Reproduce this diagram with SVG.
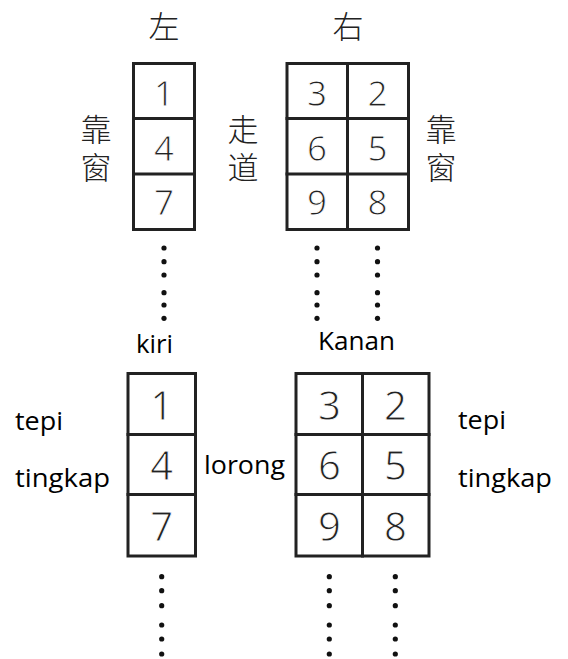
<svg xmlns="http://www.w3.org/2000/svg" width="568" height="659" viewBox="0 0 568 659">
<style>
.bg{fill:#ffffff}
.grid{fill:none;stroke:#222;stroke-width:3;stroke-linecap:square}
.dg{font-family:"Open Sans","DejaVu Sans",sans-serif;fill:#222;text-anchor:middle;stroke:#fff;stroke-width:0.9px}
.dt{font-size:35px}
.db{font-size:40px}
.cjk{font-family:"Noto Sans CJK SC","Noto Sans CJK TC",sans-serif;font-weight:300;fill:#222;font-size:31px}
.vt{writing-mode:vertical-rl;letter-spacing:7px}
.lat{font-family:"Open Sans","Noto Sans",sans-serif;font-size:25px;fill:#000}
.dot{fill:#111}
</style>
<rect class="bg" x="0" y="0" width="568" height="659"/>

<g id="top-labels">
  <text class="cjk" x="164" y="24" font-size="32" text-anchor="middle" dominant-baseline="central">左</text>
  <text class="cjk" x="348" y="24" font-size="32" text-anchor="middle" dominant-baseline="central">右</text>
  <text class="cjk vt" x="96" y="113.5">靠窗</text>
  <text class="cjk vt" x="243" y="113.5">走道</text>
  <text class="cjk vt" x="441" y="113.5">靠窗</text>
</g>

<g id="top-left-seats">
  <rect class="grid" x="133.5" y="63.5" width="61" height="166"/>
  <line class="grid" x1="133.5" y1="118.5" x2="194.5" y2="118.5"/>
  <line class="grid" x1="133.5" y1="174" x2="194.5" y2="174"/>
  <text class="dg dt" x="164" y="106">1</text>
  <text class="dg dt" x="164" y="160.5">4</text>
  <text class="dg dt" x="164" y="215">7</text>
</g>

<g id="top-right-seats">
  <rect class="grid" x="287" y="63.5" width="121.5" height="166"/>
  <line class="grid" x1="347.5" y1="63.5" x2="347.5" y2="229.5"/>
  <line class="grid" x1="287" y1="118.5" x2="408.5" y2="118.5"/>
  <line class="grid" x1="287" y1="174" x2="408.5" y2="174"/>
  <text class="dg dt" x="317" y="106">3</text>
  <text class="dg dt" x="377.5" y="106">2</text>
  <text class="dg dt" x="317" y="160.5">6</text>
  <text class="dg dt" x="377.5" y="160.5">5</text>
  <text class="dg dt" x="317" y="215">9</text>
  <text class="dg dt" x="377.5" y="215">8</text>
</g>

<g id="top-dots">
  <circle class="dot" cx="164" cy="248" r="2.6"/><circle class="dot" cx="164" cy="261.7" r="2.6"/><circle class="dot" cx="164" cy="275" r="2.6"/><circle class="dot" cx="164" cy="292.7" r="2.6"/><circle class="dot" cx="164" cy="305" r="2.6"/><circle class="dot" cx="164" cy="318.3" r="2.6"/>
  <circle class="dot" cx="317" cy="248" r="2.6"/><circle class="dot" cx="317" cy="261.7" r="2.6"/><circle class="dot" cx="317" cy="275" r="2.6"/><circle class="dot" cx="317" cy="292.7" r="2.6"/><circle class="dot" cx="317" cy="305" r="2.6"/><circle class="dot" cx="317" cy="318.3" r="2.6"/>
  <circle class="dot" cx="377.5" cy="248" r="2.6"/><circle class="dot" cx="377.5" cy="261.7" r="2.6"/><circle class="dot" cx="377.5" cy="275" r="2.6"/><circle class="dot" cx="377.5" cy="292.7" r="2.6"/><circle class="dot" cx="377.5" cy="305" r="2.6"/><circle class="dot" cx="377.5" cy="318.3" r="2.6"/>
</g>

<g id="bottom-labels">
  <text class="lat" x="136" y="352.5" textLength="37" lengthAdjust="spacingAndGlyphs">kiri</text>
  <text class="lat" x="318" y="350" textLength="77" lengthAdjust="spacingAndGlyphs">Kanan</text>
  <text class="lat" x="15" y="430" textLength="48" lengthAdjust="spacingAndGlyphs">tepi</text>
  <text class="lat" x="15" y="486.5" textLength="95" lengthAdjust="spacingAndGlyphs">tingkap</text>
  <text class="lat" x="204" y="474" textLength="81" lengthAdjust="spacingAndGlyphs">lorong</text>
  <text class="lat" x="458" y="428.5" textLength="48" lengthAdjust="spacingAndGlyphs">tepi</text>
  <text class="lat" x="458" y="486.5" textLength="94" lengthAdjust="spacingAndGlyphs">tingkap</text>
</g>

<g id="bottom-left-seats">
  <rect class="grid" x="128" y="373.5" width="67.5" height="182.5"/>
  <line class="grid" x1="128" y1="434.5" x2="195.5" y2="434.5"/>
  <line class="grid" x1="128" y1="494.5" x2="195.5" y2="494.5"/>
  <text class="dg db" x="161.7" y="420">1</text>
  <text class="dg db" x="161.7" y="480">4</text>
  <text class="dg db" x="161.7" y="541">7</text>
</g>

<g id="bottom-right-seats">
  <rect class="grid" x="296" y="373.5" width="133" height="182.5"/>
  <line class="grid" x1="362.5" y1="373.5" x2="362.5" y2="556"/>
  <line class="grid" x1="296" y1="434.5" x2="429" y2="434.5"/>
  <line class="grid" x1="296" y1="494.5" x2="429" y2="494.5"/>
  <text class="dg db" x="329.5" y="420">3</text>
  <text class="dg db" x="395.5" y="420">2</text>
  <text class="dg db" x="329.5" y="480">6</text>
  <text class="dg db" x="395.5" y="480">5</text>
  <text class="dg db" x="329.5" y="541">9</text>
  <text class="dg db" x="395.5" y="541">8</text>
</g>

<g id="bottom-dots">
  <circle class="dot" cx="161.7" cy="576.7" r="2.6"/><circle class="dot" cx="161.7" cy="590.7" r="2.6"/><circle class="dot" cx="161.7" cy="605.7" r="2.6"/><circle class="dot" cx="161.7" cy="625" r="2.6"/><circle class="dot" cx="161.7" cy="639" r="2.6"/><circle class="dot" cx="161.7" cy="654" r="2.6"/>
  <circle class="dot" cx="329.3" cy="576.7" r="2.6"/><circle class="dot" cx="329.3" cy="590.7" r="2.6"/><circle class="dot" cx="329.3" cy="605.7" r="2.6"/><circle class="dot" cx="329.3" cy="625" r="2.6"/><circle class="dot" cx="329.3" cy="639" r="2.6"/><circle class="dot" cx="329.3" cy="654" r="2.6"/>
  <circle class="dot" cx="395.3" cy="576.7" r="2.6"/><circle class="dot" cx="395.3" cy="590.7" r="2.6"/><circle class="dot" cx="395.3" cy="605.7" r="2.6"/><circle class="dot" cx="395.3" cy="625" r="2.6"/><circle class="dot" cx="395.3" cy="639" r="2.6"/><circle class="dot" cx="395.3" cy="654" r="2.6"/>
</g>
</svg>
